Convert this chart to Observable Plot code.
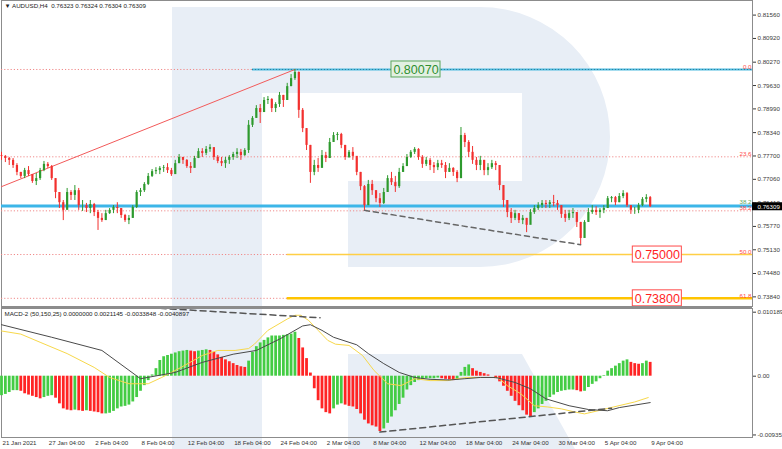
<!DOCTYPE html>
<html><head><meta charset="utf-8">
<script src="https://cdn.jsdelivr.net/npm/d3@7"></script>
<script src="https://cdn.jsdelivr.net/npm/@observablehq/plot@0.6"></script>
<style>
body{margin:0;background:#fff;}
#wrap{position:relative;width:782px;height:449px;overflow:hidden;background:#fff;}
#wm{position:absolute;left:0;top:0;}
#charts{position:absolute;left:0;top:0;width:782px;}
#charts svg{display:block;background:transparent;}
</style></head><body>
<div id="wrap">
<svg id="wm" width="782" height="449"><path fill="#e8eef6" fill-rule="evenodd" d="M172,7 L480,7 A130,130 0 0 1 480,267 L348,267 L348,181 L262,181 L262,449 L172,449 Z M262,93 L522,93 L522,181 L262,181 Z M348,354 L522,354 L575,449 L348,449 Z"/></svg>
<div id="charts"></div>
</div>
<script>
// ---------- data ----------
const symbolTitle = "▼ AUDUSD,H4  0.76323 0.76324 0.76304 0.76309";
const macdTitle = "MACD-2 (50,150,25) 0.0000000 0.0021145 -0.0033848 -0.0040897";
const timeLabels = ["21 Jan 2021","27 Jan 04:00","2 Feb 04:00","8 Feb 04:00","12 Feb 04:00","18 Feb 04:00","24 Feb 04:00","2 Mar 04:00","8 Mar 04:00","12 Mar 04:00","18 Mar 04:00","24 Mar 04:00","30 Mar 04:00","5 Apr 04:00","9 Apr 04:00"];
const timeLabelBars = [0,24,48,72,96,120,144,168,192,216,240,264,288,312,336];
const priceTicks = [0.81560,0.80920,0.80270,0.79630,0.78990,0.78340,0.77700,0.77060,0.76410,0.75770,0.75130,0.74480,0.73840];
const macdTicks = [0.0101892, 0, -0.0093555];
const macdTickLabels = ["0.0101892","0.00","-0.0093555"];

// candles (every 2nd H4 bar), prices in units of 0.0001
const barStep = 2;
const firstOpen = 7771;
const candleHigh = [
7780,7771,7766,7763,7749,7725,7736,7741,7716,7722,
7736,7755,7752,7744,7708,7662,7648,7681,7675,7689,
7681,7648,7640,7648,7640,7621,7612,7621,7626,7634,
7642,7626,7610,7607,7634,7675,7681,7697,7722,7733,
7738,7741,7744,7749,7736,7758,7774,7766,7760,7752,
7769,7790,7790,7796,7801,7790,7771,7766,7766,7771,
7780,7790,7788,7790,7867,7878,7908,7911,7930,7933,
7927,7916,7944,7936,7969,7993,8007,8000,7900,7845,
7799,7758,7763,7785,7780,7818,7834,7834,7832,7799,
7785,7793,7763,7725,7689,7703,7703,7675,7667,7681,
7716,7725,7714,7736,7749,7774,7785,7793,7790,7771,
7766,7763,7752,7758,7758,7752,7749,7738,7730,7848,
7832,7812,7796,7766,7769,7758,7749,7758,7755,7730,
7689,7648,7626,7621,7612,7607,7599,7623,7634,7642,
7648,7648,7648,7662,7648,7634,7621,7621,7626,7615,
7588,7593,7626,7634,7631,7626,7634,7659,7659,7659,
7667,7675,7670,7634,7629,7640,7656,7664,7659];
const candleLow = [
7758,7752,7744,7736,7716,7708,7708,7714,7695,7689,
7703,7727,7736,7703,7653,7626,7593,7634,7648,7648,
7621,7618,7615,7612,7604,7566,7588,7599,7610,7612,
7612,7599,7588,7582,7599,7626,7659,7670,7689,7711,
7719,7719,7725,7722,7714,7725,7749,7747,7736,7722,
7741,7763,7766,7771,7780,7758,7749,7741,7736,7747,
7758,7763,7758,7769,7777,7848,7873,7859,7900,7911,
7889,7889,7903,7903,7922,7960,7977,7873,7834,7785,
7695,7716,7725,7744,7752,7763,7807,7812,7790,7758,
7763,7758,7716,7675,7621,7634,7662,7642,7629,7637,
7670,7689,7670,7681,7725,7741,7763,7774,7758,7736,
7741,7730,7722,7730,7736,7708,7725,7714,7697,7708,
7793,7766,7747,7730,7730,7716,7716,7733,7730,7675,
7629,7601,7585,7593,7585,7582,7560,7588,7610,7621,
7626,7626,7626,7631,7621,7599,7588,7593,7599,7574,
7527,7560,7588,7610,7607,7599,7612,7631,7642,7634,
7642,7653,7629,7610,7610,7612,7631,7642,7629];
const candleClose = [
7769,7763,7758,7744,7725,7714,7730,7719,7700,7708,
7730,7747,7741,7708,7670,7642,7621,7670,7662,7675,
7634,7634,7626,7637,7615,7599,7593,7612,7621,7629,
7626,7607,7593,7599,7629,7670,7675,7692,7714,7727,
7730,7736,7738,7730,7719,7749,7766,7758,7741,7736,
7763,7782,7777,7788,7793,7766,7755,7749,7758,7766,
7774,7780,7771,7785,7854,7873,7900,7889,7922,7925,
7900,7911,7936,7922,7960,7982,7999,7895,7845,7799,
7725,7744,7736,7771,7763,7807,7826,7829,7799,7766,
7780,7769,7725,7686,7634,7692,7675,7653,7640,7670,
7708,7697,7686,7725,7741,7766,7780,7788,7766,7747,
7758,7744,7738,7749,7744,7725,7736,7725,7708,7826,
7807,7780,7758,7744,7758,7730,7738,7749,7744,7689,
7648,7615,7599,7612,7593,7599,7580,7615,7626,7634,
7640,7637,7642,7640,7634,7610,7599,7612,7615,7588,
7544,7588,7615,7621,7615,7621,7626,7653,7656,7642,
7659,7667,7634,7621,7621,7634,7651,7656,7631];

// MACD histogram (every 2nd bar), units of 0.0001
const macdHist = [
-31,-29,-26,-23,-23,-24,-28,-30,-32,-34,
-36,-34,-32,-31,-35,-44,-52,-54,-55,-54,
-55,-56,-55,-56,-57,-58,-60,-60,-59,-56,
-52,-49,-48,-46,-41,-34,-24,-15,-7,2,
12,25,31,33,35,37,39,40,41,40,
39,40,41,42,41,38,34,30,26,23,
20,17,15,14,24,38,47,53,57,61,
64,64,64,65,66,67,70,60,45,28,
5,-20,-39,-52,-58,-60,-52,-46,-44,-46,
-48,-49,-53,-60,-70,-76,-79,-81,-88,-84,
-75,-65,-55,-45,-35,-22,-15,-10,-7,-5,
-4,-4,-4,-3,-4,-5,-6,-7,-6,6,
14,18,12,8,6,4,2,0,-4,-9,
-16,-24,-32,-40,-47,-55,-62,-65,-58,-52,
-45,-40,-34,-30,-26,-24,-23,-22,-22,-23,
-25,-24,-18,-13,-9,-4,1,8,12,16,
20,24,26,22,20,19,20,24,22];
// MACD lines (bar index, units of 0.0001)
const blackBars = [0,26,52,72,90,104,120,132,144,156,160,166,172,184,190,198,206,214,222,232,240,248,256,266,274,282,294,304,314,320,336];
const blackVals = [82,62,41,-4,6,22,35,41,59,80,82,73,62,50,36,20,6,-2,-5,-6,-4,-2,-2,-10,-20,-36,-47,-53,-55,-50,-42];
const yellowBars = [0,10,20,34,48,56,66,76,83,93,104,112,121,128,131,138,148,152,155,159,164,169,173,180,187,193,200,207,214,222,231,236,241,252,257,262,269,276,283,290,297,302,309,317,328,335];
const yellowVals = [72,67,54,36,14,-2,-12,-12,-2,14,33,41,41,44,51,73,91,97,97,89,73,57,51,49,33,9,-12,-15,-4,-7,-7,-4,-2,-2,-2,-15,-28,-47,-49,-52,-57,-60,-55,-49,-41,-34];

// levels and annotations
const fibPrices = [0.80070,0.77677,0.76197,0.75000,0.73800];
const fibNames = ["0.0","23.6","38.2","50.0","61.8"];
const zeroLevelStartBar = 130;
const lowerLevelStartBar = 148;
const supportPrice = 0.76330;
const lastPrice = 0.76309;
const fibTrendBars = [0,152], fibTrendPrices = [0.7686,0.8007];
const priceTrendBars = [188,300], priceTrendPrices = [0.7621,0.7527];
const macdUpperBars = [77,165], macdUpperVals = [109,93];
const macdLowerBars = [196,316], macdLowerVals = [-89,-51];
const greenBoxPrice = 0.80070, greenBoxText = "0.80070", greenBoxBar = 202;
const redBoxPrices = [0.75000,0.73800], redBoxTexts = ["0.75000","0.73800"], redBoxBar = 327;

// ---------- build ----------
const XMAX = 389;
const FONT = "Liberation Sans, Arial, sans-serif";
const GREEN = "#2e9a2e", RED = "#f2302e";
const HG = "#44cc44", HR = "#ff2424";

const candles = candleClose.map((c,i)=>({
  bar: i*barStep,
  o: (i===0 ? firstOpen : candleClose[i-1])/1e4,
  h: candleHigh[i]/1e4, l: candleLow[i]/1e4, c: c/1e4
}));
const upC = candles.filter(d=>d.c>=d.o), dnC = candles.filter(d=>d.c<d.o);
const pts = (bs, vs, k=1)=>bs.map((b,i)=>({bar:b, v:vs[i]*k}));

const boxHalf = 0.00219, boxWBars = 25.4;
const greenBox = [{bar:greenBoxBar, price:greenBoxPrice, text:greenBoxText}];
const redBoxes = redBoxPrices.map((p,i)=>({bar:redBoxBar, price:p, text:redBoxTexts[i]}));

const main = Plot.plot({
  width: 782, height: 306,
  marginLeft: 1, marginRight: 30, marginTop: 0, marginBottom: 0,
  style: {background:"transparent", fontFamily: FONT, fontSize:"6.2px", color:"#3a3a3a", overflow:"visible"},
  x: {domain:[0, XMAX], axis:null},
  y: {domain:[0.73576, 0.8196], axis:"right", ticks: priceTicks, tickFormat: d=>d.toFixed(5), tickSize:3, tickPadding:2, label:null},
  marks: [
    Plot.frame({stroke:"#8c8c8c"}),
    Plot.ruleY(fibPrices, {stroke:"#f08a8a", strokeDasharray:"1.2,2"}),
    Plot.ruleY([fibPrices[0]], {x1: zeroLevelStartBar, x2: XMAX, stroke:"#4fbbe0", strokeWidth:2}),
    Plot.ruleY([fibPrices[0]], {x1: zeroLevelStartBar, x2: XMAX, stroke:"#2a7f9a", strokeDasharray:"1,2"}),
    Plot.ruleY([fibPrices[3]], {x1: lowerLevelStartBar, x2: XMAX, stroke:"#ffcf45", strokeWidth:1.6}),
    Plot.ruleY([fibPrices[4]], {x1: lowerLevelStartBar, x2: XMAX, stroke:"#ffc400", strokeWidth:2.4}),
    Plot.ruleY([supportPrice], {stroke:"#3cb6e8", strokeWidth:3}),
    Plot.line(pts(fibTrendBars, fibTrendPrices), {x:"bar", y:"v", stroke:"#f25a5a", strokeWidth:1}),
    Plot.line(pts(priceTrendBars, priceTrendPrices), {x:"bar", y:"v", stroke:"#666", strokeDasharray:"5,4"}),
    Plot.ruleX(upC, {x:"bar", y1:"l", y2:"h", stroke:GREEN, strokeWidth:1}),
    Plot.ruleX(dnC, {x:"bar", y1:"l", y2:"h", stroke:RED, strokeWidth:1}),
    Plot.ruleX(upC, {x:"bar", y1:"o", y2:"c", stroke:GREEN, strokeWidth:2.2}),
    Plot.ruleX(dnC, {x:"bar", y1:"o", y2:"c", stroke:RED, strokeWidth:2.2}),
    Plot.text(fibPrices, {x: XMAX, y: d=>d, text:(d,i)=>fibNames[i], textAnchor:"end", dx:-1, dy:-2.5, fill:"#ff4a4a", fontSize:6.2}),
    Plot.text([supportPrice], {x: XMAX, y: d=>d, text:["38.2"], textAnchor:"end", dx:-1, dy:-3.8, fill:"#5aa85a", fontSize:6.2}),
    Plot.rect(greenBox, {x1:"bar", x2:d=>d.bar+boxWBars, y1:d=>d.price-boxHalf, y2:d=>d.price+boxHalf, fill:"#e2f0e2", stroke:"#5aa65a"}),
    Plot.text(greenBox, {x:d=>d.bar+boxWBars/2, y:"price", text:"text", fill:"#2f8f2f", fontSize:12.5, dy:0.5}),
    Plot.rect(redBoxes, {x1:"bar", x2:d=>d.bar+boxWBars, y1:d=>d.price-boxHalf, y2:d=>d.price+boxHalf, fill:"#fff", stroke:"#ff4a4a"}),
    Plot.text(redBoxes, {x:d=>d.bar+boxWBars/2, y:"price", text:"text", fill:"#ff1f1f", fontSize:12.5, dy:0.5}),
    Plot.rect([lastPrice], {x1: XMAX, x2: XMAX+15.6, y1: d=>d-0.0011, y2: d=>d+0.0011, fill:"#000"}),
    Plot.text([lastPrice], {x: XMAX, y: d=>d, text: d=>d.toFixed(5), textAnchor:"start", dx:5, fill:"#fff", fontSize:6.2}),
    Plot.text([symbolTitle], {frameAnchor:"top-left", dx:3, dy:3, fill:"#222", fontSize:6.2})
  ]
});

const hist = macdHist.map((v,i)=>({bar:i*barStep, v:v/1e4, up: i===0 ? true : v>=macdHist[i-1]}));
const MTOP = 0.010778, MBOT = -0.009759;
const macd = Plot.plot({
  width: 782, height: 143,
  marginLeft: 1, marginRight: 30, marginTop: 2, marginBottom: 12,
  style: {background:"transparent", fontFamily: FONT, fontSize:"6.2px", color:"#3a3a3a", overflow:"visible"},
  x: {domain:[0, XMAX], axis:null},
  y: {domain:[MBOT, MTOP], axis:"right", ticks: macdTicks, tickFormat: d=>macdTickLabels[macdTicks.indexOf(d)], tickSize:3, tickPadding:2, label:null},
  marks: [
    Plot.frame({stroke:"#8c8c8c"}),
    Plot.ruleX(hist.filter(d=>d.up), {x:"bar", y1:0, y2:"v", stroke:HG, strokeWidth:2.8}),
    Plot.ruleX(hist.filter(d=>!d.up), {x:"bar", y1:0, y2:"v", stroke:HR, strokeWidth:2.8}),
    Plot.line(pts(yellowBars, yellowVals, 1e-4), {x:"bar", y:"v", stroke:"#f7d84a", strokeWidth:1}),
    Plot.line(pts(blackBars, blackVals, 1e-4), {x:"bar", y:"v", stroke:"#4a4a4a", strokeWidth:1}),
    Plot.line(pts(macdUpperBars, macdUpperVals, 1e-4), {x:"bar", y:"v", stroke:"#555", strokeDasharray:"6,4", clip:true}),
    Plot.line(pts(macdLowerBars, macdLowerVals, 1e-4), {x:"bar", y:"v", stroke:"#555", strokeDasharray:"6,4", clip:true}),
    Plot.ruleY([MTOP], {stroke:"#8c8c8c", strokeWidth:3, dy:-1, x1:0, x2:XMAX}),
    Plot.text([macdTitle], {frameAnchor:"top-left", dx:3, dy:3, fill:"#222", fontSize:6.2}),
    Plot.text(timeLabelBars, {x:d=>d, text:(d,i)=>timeLabels[i], frameAnchor:"bottom", textAnchor:"start", lineAnchor:"top", dx:1, dy:3, fill:"#333", fontSize:6.2})
  ]
});

const host = document.getElementById("charts");
host.appendChild(main);
host.appendChild(macd);
</script>
</body></html>
